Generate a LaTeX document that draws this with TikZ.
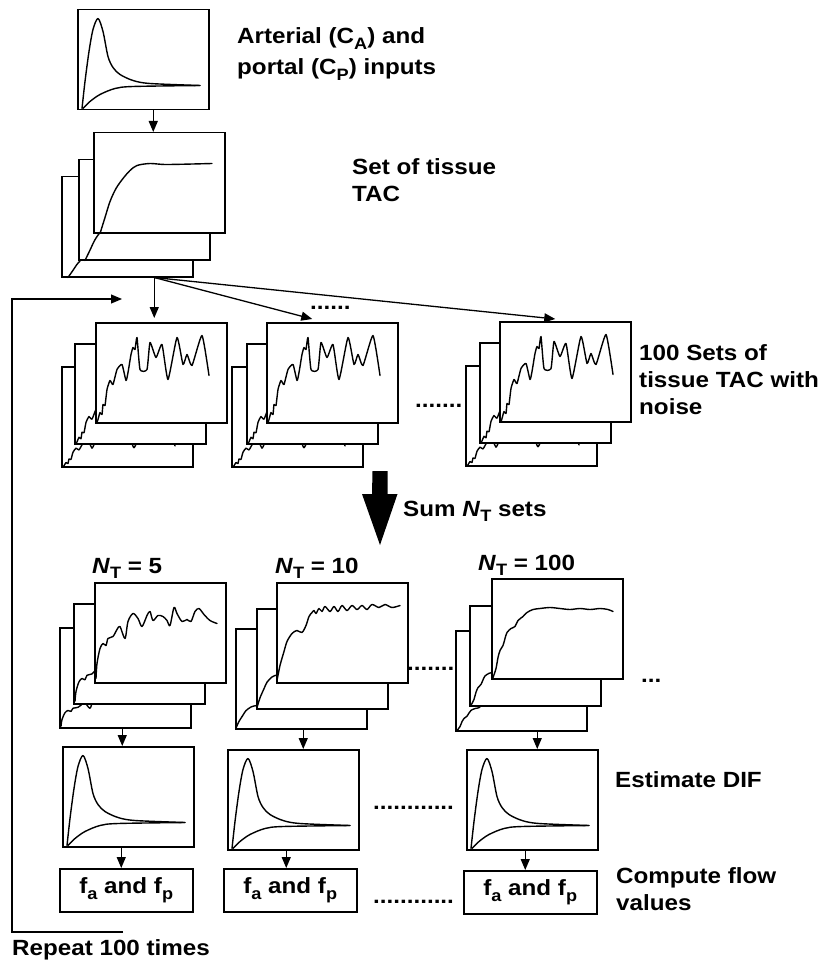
\documentclass[tikz,border=0pt]{standalone}
\usepackage{fontspec}
\setmainfont{Liberation Sans}[FakeStretch=1.1]
\usepackage{tikz}
\usetikzlibrary{
    positioning,
    arrows.meta
}
\newcommand{\lowidx}[1]{\raisebox{-5.5pt}{\fontsize{16.5}{16.5}\selectfont #1}}

\begin{document}
\begin{tikzpicture}[
      x=1pt, y=-1pt,
      font=\fontsize{22}{27}\selectfont\bfseries,
      % Define styles for the elements
      plotbox/.style={
          rectangle,
          draw,
          line width=1.5pt,
          fill=white,
          anchor=north west,
          inner sep=0pt,
          minimum width=131pt,
          minimum height=100pt
        },
      flowbox/.style={
          plotbox,
          minimum width=133pt,
          minimum height=43pt
        },
      caption/.style={
          anchor=west,
          align=left,
          inner sep=0pt
        },
      gap/.style={
          anchor=base west,
          inner sep=0pt
        },
      arrow/.style={
          -{Triangle[length=11pt,width=9pt]}, % Arrow tip style
          line width=1.3pt
        },
      trace/.style={
          line width=1.4pt,
          line join=round,
          line cap=round
        },
      % Curves drawn inside the boxes
      peaks/.pic={
          \draw[trace] plot[smooth, tension=0.5] coordinates {(5,-2) (8,-29) (12,-59) (16,-81) (21,-92) (26,-79) (31,-54) (36,-43) (43,-36) (56,-30) (73,-27) (123,-25)};
          \draw[trace] plot[smooth, tension=0.5] coordinates {(6,-2) (13,-9) (23,-16) (38,-22) (56,-24) (123,-25)};
        },
      uptake/.pic={
          \draw[trace] plot[smooth, tension=0.5] coordinates {(7,0) (12,-16) (17,-32) (23,-45) (30,-55) (37,-63) (44,-68) (57,-70) (74,-69) (119,-70)};
        },
      noisy/.pic={
          \draw[trace] plot[smooth, tension=0.3] coordinates {(2,-1) (3,-4) (5,-11) (7,-9) (8,-19) (10,-18) (12,-34) (15,-43) (18,-39) (22,-54) (27,-59) (31,-43) (33,-51) (36,-69) (38,-76) (40,-74) (42,-86) (45,-54) (52,-54) (55,-81) (61,-66) (67,-79) (73,-44) (82,-86) (88,-59) (92,-69) (97,-58) (107,-88) (114,-48)};
        },
      sumfive/.pic={
          \draw[trace] plot[smooth, tension=0.5] coordinates {(2,-5) (3,-20) (6,-35) (9,-40) (12,-38) (14,-45) (19,-47) (23,-54) (26,-57) (31,-45) (34,-62) (39,-70) (44,-65) (48,-57) (53,-68) (56,-72) (59,-63) (64,-68) (69,-67) (73,-63) (76,-58) (80,-76) (83,-70) (88,-62) (93,-64) (97,-62) (101,-72) (105,-75) (110,-69) (116,-63) (123,-60)};
        },
      sumten/.pic={
          \draw[trace] plot[smooth, tension=0.5] coordinates {(1,-3) (4,-18) (8,-32) (11,-42) (16,-50) (21,-53) (26,-51) (30,-58) (33,-67) (36,-71) (38,-73) (40,-70) (43,-75) (46,-72) (49,-77) (54,-72) (58,-77) (62,-72) (66,-78) (71,-73) (76,-78) (81,-74) (86,-78) (91,-74) (96,-79) (103,-76) (109,-79) (116,-76) (124,-78)};
        },
      sumall/.pic={
          \draw[trace] plot[smooth, tension=0.5] coordinates {(2,-2) (5,-11) (7,-22) (9,-29) (12,-34) (14,-41) (16,-47) (20,-51) (24,-53) (27,-59) (32,-63) (36,-67) (42,-70) (49,-71) (59,-72) (69,-71) (79,-70) (89,-71) (99,-70) (109,-71) (117,-70) (122,-68)};
        }
    ]

    \useasboundingbox (0,0) rectangle (818,960);

    % Input curves and tissue TAC
    \node[plotbox] (input) at (77,9) {};
    \pic at (input.south west) {peaks};

    \node[plotbox] (tissue_c) at (61,176) {};
    \pic[yscale=0.45] at (tissue_c.south west) {uptake};
    \node[plotbox] (tissue_b) at (78,159) {};
    \pic[yscale=0.65] at (tissue_b.south west) {uptake};
    \node[plotbox] (tissue_a) at (93,132) {};
    \pic at (tissue_a.south west) {uptake};

    % Sets with noise
    \node[plotbox] (noise1_c) at (61,366) {};
    \pic[yscale=0.45] at (noise1_c.south west) {noisy};
    \node[plotbox] (noise1_b) at (74,343) {};
    \pic[yscale=0.65] at (noise1_b.south west) {noisy};
    \node[plotbox] (noise1_a) at (95,322) {};
    \pic at (noise1_a.south west) {noisy};

    \node[plotbox] (noise2_c) at (231,366) {};
    \pic[yscale=0.45] at (noise2_c.south west) {noisy};
    \node[plotbox] (noise2_b) at (246,343) {};
    \pic[yscale=0.65] at (noise2_b.south west) {noisy};
    \node[plotbox] (noise2_a) at (266,322) {};
    \pic at (noise2_a.south west) {noisy};

    \node[plotbox] (noise3_c) at (465,365) {};
    \pic[yscale=0.45] at (noise3_c.south west) {noisy};
    \node[plotbox] (noise3_b) at (479,342) {};
    \pic[yscale=0.65] at (noise3_b.south west) {noisy};
    \node[plotbox] (noise3_a) at (499,321) {};
    \pic at (noise3_a.south west) {noisy};

    % Summed sets
    \node[plotbox] (sum5_c) at (59,627) {};
    \pic[yscale=0.45] at (sum5_c.south west) {sumfive};
    \node[plotbox] (sum5_b) at (73,603) {};
    \pic[yscale=0.65] at (sum5_b.south west) {sumfive};
    \node[plotbox] (sum5_a) at (94,582) {};
    \pic at (sum5_a.south west) {sumfive};

    \node[plotbox] (sum10_c) at (235,628) {};
    \pic[yscale=0.45] at (sum10_c.south west) {sumten};
    \node[plotbox] (sum10_b) at (256,608) {};
    \pic[yscale=0.65] at (sum10_b.south west) {sumten};
    \node[plotbox] (sum10_a) at (276,582) {};
    \pic at (sum10_a.south west) {sumten};

    \node[plotbox] (sum100_c) at (455,630) {};
    \pic[yscale=0.45] at (sum100_c.south west) {sumall};
    \node[plotbox] (sum100_b) at (469,605) {};
    \pic[yscale=0.65] at (sum100_b.south west) {sumall};
    \node[plotbox] (sum100_a) at (491,578) {};
    \pic at (sum100_a.south west) {sumall};

    % Estimated DIF and flow values
    \node[plotbox] (dif1) at (62,746) {};
    \pic at (dif1.south west) {peaks};
    \node[plotbox] (dif2) at (227,749) {};
    \pic at (dif2.south west) {peaks};
    \node[plotbox] (dif3) at (466,749) {};
    \pic at (dif3.south west) {peaks};

    \node[flowbox] (flow1) at (59,868) {f\lowidx{a} and f\lowidx{p}};
    \node[flowbox] (flow2) at (223,868) {f\lowidx{a} and f\lowidx{p}};
    \node[flowbox] (flow3) at (463,870) {f\lowidx{a} and f\lowidx{p}};

    % Texts
    \node[caption] (inputs_text) at (237,54) {Arterial (C\lowidx{A}) and\\[4pt] portal (C\lowidx{P}) inputs};
    \node[caption] (tissue_text) at (352,180.5) {Set of tissue\\TAC};
    \node[caption] (noise_text) at (639,380) {100 Sets of\\tissue TAC with\\noise};
    \node[gap] (sum_text) at (403,516) {Sum \textit{N}\lowidx{T} sets};
    \node[gap] (nt5_text) at (92,573) {\textit{N}\lowidx{T} = 5};
    \node[gap] (nt10_text) at (275,573) {\textit{N}\lowidx{T} = 10};
    \node[gap] (nt100_text) at (478,570) {\textit{N}\lowidx{T} = 100};
    \node[caption] (dif_text) at (615,780) {Estimate DIF};
    \node[caption] (flow_text) at (616,889.5) {Compute flow\\values};
    \node[gap] (repeat_text) at (12,955) {Repeat 100 times};

    \node[gap] (dots_arrows) at (310,309) {......};
    \node[gap] (dots_noise) at (415,407) {.......};
    \node[gap] (dots_sum) at (407,670) {.......};
    \node[gap] (dots_more) at (641,682) {...};
    \node[gap] (dots_dif) at (373,809) {............};
    \node[gap] (dots_flow) at (373,903) {............};

    % Draw the arrows connecting the nodes
    \draw[arrow] ([xshift=10pt]input.south) -- ([xshift=10pt]input.south |- tissue_a.north);

    \coordinate (split) at ([xshift=27pt]tissue_c.south);
    \draw[arrow] (split) -- ([yshift=4pt]split |- noise1_a.north);
    \draw[arrow] (split) -- ([xshift=-20pt,yshift=3pt]noise2_a.north);
    \draw[arrow] (split) -- ([xshift=-10pt,yshift=2pt]noise3_a.north);

    \draw[arrow] ([xshift=-3pt]sum5_c.south) -- ([xshift=-3pt]sum5_c.south |- dif1.north);
    \draw[arrow] ([xshift=2pt]sum10_c.south) -- ([xshift=2pt]sum10_c.south |- dif2.north);
    \draw[arrow] ([xshift=16pt]sum100_c.south) -- ([xshift=16pt]sum100_c.south |- dif3.north);

    \draw[arrow] ([xshift=-7pt]dif1.south) -- ([xshift=-7pt]dif1.south |- flow1.north);
    \draw[arrow] ([xshift=-7pt]dif2.south) -- ([xshift=-7pt]dif2.south |- flow2.north);
    \draw[arrow] ([xshift=-7pt]dif3.south) -- ([xshift=-7pt]dif3.south |- flow3.north);

    % Big arrow for summing the sets
    \coordinate (sum_from) at (380,471);
    \coordinate (sum_to) at (380,545);
    \fill (sum_from) ++(-7.5,0) -- ++(15,0) -- ++(0,23) -- ++(10,0) -- (sum_to) -- ++(-18,-51) -- ++(10,0) -- cycle;

    % Repeat loop
    \coordinate (loop_start) at (123,932);
    \coordinate (loop_end) at (122,299);
    \draw[arrow, line width=1.1pt] (loop_start) -| ([xshift=-110pt]loop_end) -- (loop_end);

  \end{tikzpicture}
\end{document}
